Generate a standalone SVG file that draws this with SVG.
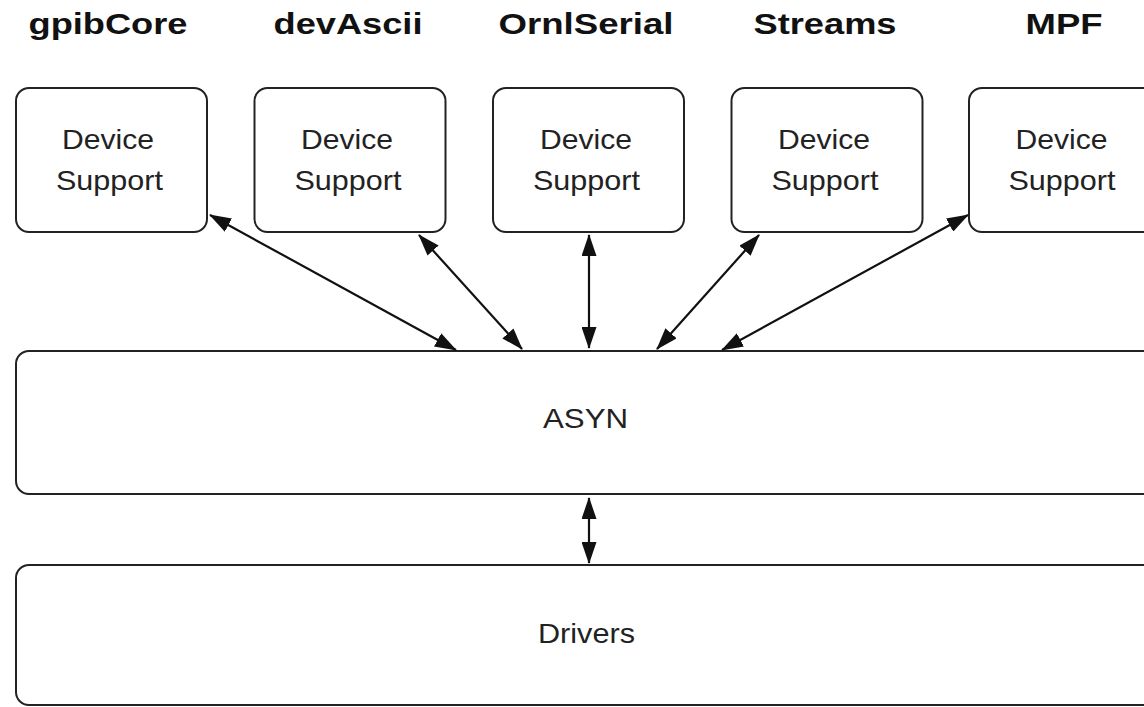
<svg xmlns="http://www.w3.org/2000/svg" width="1144" height="707" viewBox="0 0 1144 707">
  <style>
    .box { fill: #ffffff; stroke: #222222; stroke-width: 2; }
    .title { font-family: "Liberation Sans", Arial, sans-serif; font-weight: bold; font-size: 30px; fill: #111111; text-anchor: middle; }
    .lbl { font-family: "Liberation Sans", Arial, sans-serif; font-size: 28px; fill: #222222; text-anchor: middle; }
    .conn { stroke: #111111; stroke-width: 2.2; fill: none; marker-start: url(#ah); marker-end: url(#ah); }
  </style>
  <defs>
    <marker id="ah" viewBox="0 0 22 15" refX="21" refY="7.5" markerWidth="22" markerHeight="15" markerUnits="userSpaceOnUse" orient="auto-start-reverse">
      <path d="M0,0 L22,7.5 L0,15 Z" fill="#111111"/>
    </marker>
  </defs>
  <rect x="0" y="0" width="1144" height="707" fill="#ffffff"/>

  <g id="titles">
    <text class="title" x="108" y="34" textLength="159" lengthAdjust="spacingAndGlyphs">gpibCore</text>
    <text class="title" x="348" y="34" textLength="149" lengthAdjust="spacingAndGlyphs">devAscii</text>
    <text class="title" x="586" y="34" textLength="175" lengthAdjust="spacingAndGlyphs">OrnlSerial</text>
    <text class="title" x="825" y="34" textLength="143" lengthAdjust="spacingAndGlyphs">Streams</text>
    <text class="title" x="1064" y="34" textLength="77" lengthAdjust="spacingAndGlyphs">MPF</text>
  </g>

  <g id="ds-gpibCore">
    <rect class="box" x="16" y="88" width="191" height="144" rx="13"/>
    <text class="lbl" x="108" y="149" textLength="92" lengthAdjust="spacingAndGlyphs">Device</text>
    <text class="lbl" x="109.5" y="190" textLength="107" lengthAdjust="spacingAndGlyphs">Support</text>
  </g>
  <g id="ds-devAscii">
    <rect class="box" x="254.5" y="88" width="191" height="144" rx="13"/>
    <text class="lbl" x="347" y="149" textLength="92" lengthAdjust="spacingAndGlyphs">Device</text>
    <text class="lbl" x="348" y="190" textLength="107" lengthAdjust="spacingAndGlyphs">Support</text>
  </g>
  <g id="ds-OrnlSerial">
    <rect class="box" x="493" y="88" width="191" height="144" rx="13"/>
    <text class="lbl" x="586" y="149" textLength="92" lengthAdjust="spacingAndGlyphs">Device</text>
    <text class="lbl" x="586.5" y="190" textLength="107" lengthAdjust="spacingAndGlyphs">Support</text>
  </g>
  <g id="ds-Streams">
    <rect class="box" x="731.5" y="88" width="191" height="144" rx="13"/>
    <text class="lbl" x="824" y="149" textLength="92" lengthAdjust="spacingAndGlyphs">Device</text>
    <text class="lbl" x="825" y="190" textLength="107" lengthAdjust="spacingAndGlyphs">Support</text>
  </g>
  <g id="ds-MPF">
    <rect class="box" x="969" y="88" width="191" height="144" rx="13"/>
    <text class="lbl" x="1061.5" y="149" textLength="92" lengthAdjust="spacingAndGlyphs">Device</text>
    <text class="lbl" x="1062" y="190" textLength="107" lengthAdjust="spacingAndGlyphs">Support</text>
  </g>

  <g id="asyn">
    <rect class="box" x="16" y="351" width="1150" height="143" rx="13"/>
    <text class="lbl" x="585.5" y="428" textLength="85" lengthAdjust="spacingAndGlyphs">ASYN</text>
  </g>
  <g id="drivers">
    <rect class="box" x="16" y="565" width="1150" height="140" rx="13"/>
    <text class="lbl" x="586.5" y="643" textLength="97" lengthAdjust="spacingAndGlyphs">Drivers</text>
  </g>

  <g id="connectors">
    <line class="conn" x1="210" y1="215" x2="456" y2="350"/>
    <line class="conn" x1="419" y1="235" x2="522" y2="349"/>
    <line class="conn" x1="589" y1="235" x2="589" y2="348"/>
    <line class="conn" x1="759" y1="235" x2="657" y2="349"/>
    <line class="conn" x1="968" y1="215" x2="722" y2="350"/>
    <line class="conn" x1="589" y1="498" x2="589" y2="563"/>
  </g>
</svg>
